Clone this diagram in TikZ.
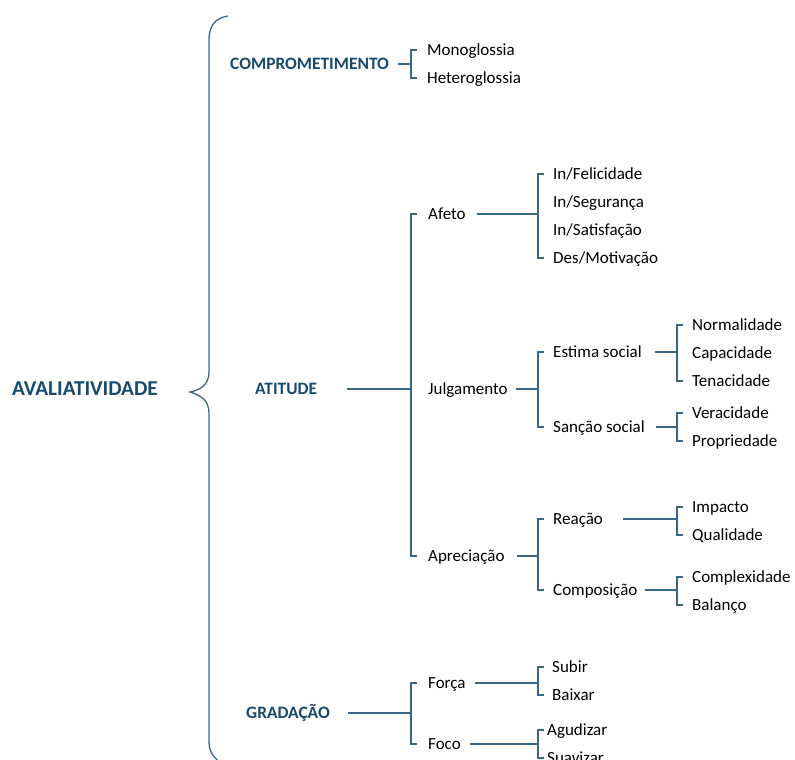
\documentclass[tikz,border=0pt]{standalone}
\usepackage{fontspec}
\setmainfont{Carlito}
\usepackage{xcolor}
\usetikzlibrary{calc}

\definecolor{deepblue}{HTML}{174A6E}
\definecolor{linkblue}{HTML}{3A6786}

\tikzset{
  item/.style={anchor=west, inner sep=0pt, text height=13pt, text depth=2pt,
    font=\fontsize{17}{20}\selectfont},
  head/.style={item, text=deepblue, font=\fontsize{17.4}{20}\selectfont\bfseries},
  link/.style={draw=linkblue, line width=1.3pt}
}

% parent, gap, bar offset, first child, last child
\newcommand\branch[5]{%
  \coordinate (#1-bar) at ([xshift=-#3]#4.west);
  \draw[link] ([xshift=#2]#1.east) -- (#1.east -| #1-bar);
  \draw[link] ([xshift=6]#1-bar) -- (#1-bar) -- (#1-bar |- #5.west) -- ++(6,0);
}

\begin{document}
\begin{tikzpicture}[x=1pt,y=-1pt]
\useasboundingbox (0,0) rectangle (795,760);

% the big brace
\draw[link] (228,16) .. controls (215,18) and (209,26) .. (209,40) -- (209,372)
  .. controls (209,385) and (200,390) .. (190,392)
  .. controls (200,395) and (209,400) .. (209,413) -- (209,742)
  .. controls (209,752) and (214,758) .. (222,764);

\node[head, font=\fontsize{21.2}{24}\selectfont\bfseries] (avalia) at (12,390) {AVALIATIVIDADE};

% comprometimento
\node[head] (comp) at (230,64) {COMPROMETIMENTO};
\node[item] (mono) at (427,50) {Monoglossia};
\node[item] (hetero) at (427,78) {Heteroglossia};
\branch{comp}{9}{16}{mono}{hetero}

% atitude
\node[head] (atit) at (255,389) {ATITUDE};
\node[item] (afeto) at (428,214) {Afeto};
\node[item] (julg) at (428,389) {Julgamento};
\node[item] (aprec) at (428,556) {Apreciação};
\branch{atit}{30}{17}{afeto}{aprec}

\node[item] (felic) at (553,174) {In/Felicidade};
\node[item] (segur) at (553,202) {In/Segurança};
\node[item] (satisf) at (553,230) {In/Satisfação};
\node[item] (motiv) at (553,258) {Des/Motivação};
\branch{afeto}{11}{15}{felic}{motiv}

\node[item] (estima) at (553,352) {Estima social};
\node[item] (sancao) at (553,427) {Sanção social};
\branch{julg}{8}{15}{estima}{sancao}

\node[item] (normal) at (692,325) {Normalidade};
\node[item] (capac) at (692,353) {Capacidade};
\node[item] (tenac) at (692,381) {Tenacidade};
\branch{estima}{13}{15}{normal}{tenac}

\node[item] (verac) at (692,413) {Veracidade};
\node[item] (propr) at (692,441) {Propriedade};
\branch{sancao}{11}{15}{verac}{propr}

\node[item] (reacao) at (553,519) {Reação};
\node[item] (compos) at (553,590) {Composição};
\branch{aprec}{12}{15}{reacao}{compos}

\node[item] (impacto) at (692,507) {Impacto};
\node[item] (qualid) at (692,535) {Qualidade};
\branch{reacao}{20}{15}{impacto}{qualid}

\node[item] (complex) at (692,577) {Complexidade};
\node[item] (balanco) at (692,605) {Balanço};
\branch{compos}{7}{15}{complex}{balanco}

% gradacao
\node[head] (grad) at (246,713) {GRADAÇÃO};
\node[item] (forca) at (428,683) {Força};
\node[item] (foco) at (428,744) {Foco};
\branch{grad}{18}{17}{forca}{foco}

\node[item] (subir) at (552,667) {Subir};
\node[item] (baixar) at (552,695) {Baixar};
\branch{forca}{9}{14}{subir}{baixar}

\node[item] (agud) at (547,730) {Agudizar};
\node[item] (suav) at (547,758) {Suavizar};
\branch{foco}{9}{9}{agud}{suav}

\end{tikzpicture}
\end{document}
